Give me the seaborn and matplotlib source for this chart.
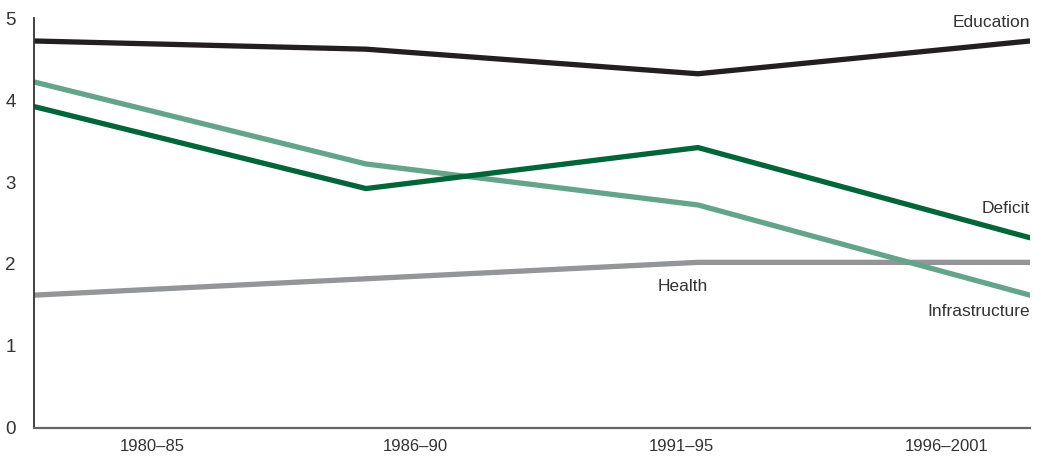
import numpy as np
import pandas as pd
import matplotlib
matplotlib.use("Agg")
import matplotlib.pyplot as plt
import seaborn as sns

periods = ["1980–85", "1986–90", "1991–95", "1996–2001"]
education = [4.72, 4.62, 4.32, 4.72]
infrastructure = [4.22, 3.22, 2.72, 1.62]
deficit = [3.92, 2.92, 3.42, 2.32]
health = [1.62, 1.82, 2.02, 2.02]

series = {"Education": education, "Infrastructure": infrastructure,
          "Deficit": deficit, "Health": health}
colors = {"Education": "#231f20", "Infrastructure": "#64a48a",
          "Deficit": "#00663a", "Health": "#939598"}

rows = []
for name, vals in series.items():
    for i, v in enumerate(vals):
        rows.append({"x": i, "value": v, "series": name})
df = pd.DataFrame(rows)

sns.set_style("white")
plt.rcParams["font.family"] = ["Liberation Sans", "DejaVu Sans"]

fig = plt.figure(figsize=(10.41, 4.68), dpi=100)
ax = fig.add_axes([0.0327, 0.0855, 0.9567, 0.876])

# draw in this order so the darker lines sit on top
for name in ["Health", "Infrastructure", "Deficit", "Education"]:
    sns.lineplot(data=df[df.series == name], x="x", y="value", color=colors[name],
                 linewidth=3.8, ax=ax, legend=False, solid_capstyle="round")

ax.set_xlim(0, 3)
ax.set_ylim(0, 5)
ax.set_xlabel("")
ax.set_ylabel("")
ax.set_yticks(range(6))
ax.set_yticklabels([str(i) for i in range(6)], fontsize=13.5, color="#333333")
ax.set_xticks([0.355, 1.148, 1.95, 2.75])
ax.set_xticklabels(periods, fontsize=12, color="#333333")
ax.tick_params(axis="both", length=0, pad=8)
ax.tick_params(axis="y", pad=13)
for side in ["top", "right"]:
    ax.spines[side].set_visible(False)
ax.spines["left"].set_color("#333333")
ax.spines["left"].set_linewidth(1.3)
ax.spines["bottom"].set_color("#666666")
ax.spines["bottom"].set_linewidth(1.6)

lab = dict(fontsize=12.5, color="#333333", ha="right", va="center")
ax.text(3.0, 4.95, "Education", **lab)
ax.text(3.0, 2.68, "Deficit", **lab)
ax.text(3.0, 1.42, "Infrastructure", **lab)
ax.text(2.03, 1.72, "Health", **lab)

fig.savefig("out.png", dpi=100)
